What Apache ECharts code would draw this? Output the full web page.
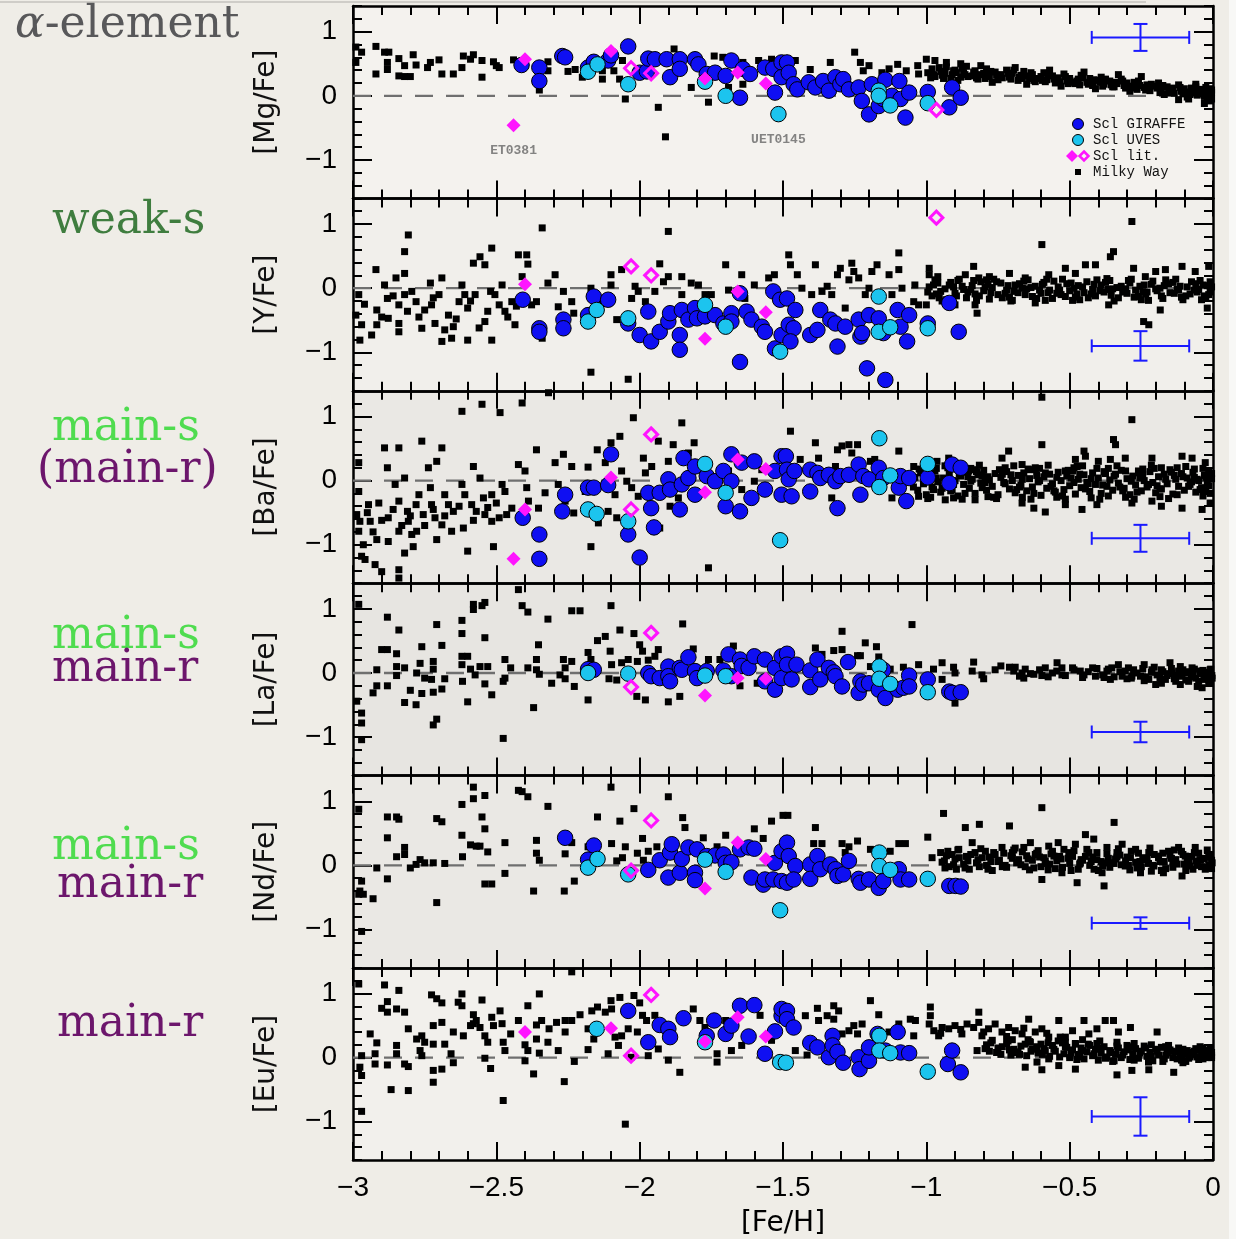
<!DOCTYPE html>
<html><head><meta charset="utf-8">
<script src="https://cdn.jsdelivr.net/npm/echarts@6/dist/echarts.min.js"></script>
<style>html,body{margin:0;padding:0;background:#efede7}#c{width:1236px;height:1239px}</style>
</head><body><div id="c"></div>
<script>
// ---------- DATA ----------
const yTitles = ['[Mg/Fe]','[Y/Fe]','[Ba/Fe]','[La/Fe]','[Nd/Fe]','[Eu/Fe]'];
const xTicks = [-3,-2.5,-2,-1.5,-1,-0.5,0];
const xTickText = ['\u22123','\u22122.5','\u22122','\u22121.5','\u22121','\u22120.5','0'];
const yTicks = [-1,0,1];
const yTickText = ['\u22121','0','1'];
const zeroLine = [[-3,0],[0,0]];

// Panel 1 : [Mg/Fe]
const mgMW = [[-2.99,0.76],[-2.97,0.68],[-2.99,0.52],[-2.92,0.77],[-2.89,0.68],[-2.875,0.68],[-2.88,0.52],[-2.92,0.34],[-2.88,0.41],[-2.84,0.58],[-2.82,0.47],[-2.84,0.31],[-2.82,0.30],[-2.80,0.30],[-2.79,0.64],[-2.78,0.48],[-2.74,0.44],[-2.73,0.52],[-2.70,0.56],[-2.69,0.34],[-2.65,0.34],[-2.62,0.44],[-2.615,0.62],[-2.59,0.57],[-2.58,0.64],[-2.55,0.55],[-2.55,0.29],[-2.51,0.53],[-2.50,0.47],[-2.49,0.44],[-2.44,0.56],[-2.32,0.53],[-2.32,0.39],[-2.35,0.09],[-2.25,0.38],[-2.225,0.41],[-2.20,0.29],[-2.13,0.26],[-2.13,0.39],[-2.09,0.39],[-2.06,0.55],[-2.07,0.26],[-2.05,-0.05],[-1.935,-0.18],[-1.91,-0.64],[-1.88,0.73],[-1.82,0.13],[-1.76,-0.10],[-1.74,0.62],[-1.71,0.60],[-1.69,0.13],[-1.64,0.52],[-1.64,0.18],[-1.585,0.55],[-1.54,0.57],[-1.486,0.55],[-1.457,0.55],[-1.405,0.41],[-1.335,0.52],[-1.25,0.68],[-1.23,0.52],[-1.22,0.39],[-1.20,0.47],[-1.155,0.36],[-1.13,0.42],[-1.10,0.49],[-1.07,0.39],[-1.03,0.47],[-1.027,0.34],[-1.0,0.57],[-0.97,0.55],[-0.93,0.52],[-0.88,0.50]];
const mgBand = [[-0.98,0.42],[-0.97,0.30],[-0.95,0.38],[-0.94,0.27],[-0.93,0.45],[-0.91,0.33],[-0.90,0.40],[-0.88,0.29],[-0.87,0.36],[-0.86,0.46],[-0.84,0.31],[-0.83,0.39],[-0.82,0.26],[-0.80,0.35],[-0.79,0.42],[-0.78,0.30],[-0.76,0.37],[-0.75,0.25],[-0.74,0.33],[-0.72,0.40],[-0.71,0.29],[-0.70,0.35],[-0.68,0.24],[-0.67,0.32],[-0.66,0.38],[-0.64,0.27],[-0.63,0.33],[-0.62,0.22],[-0.60,0.30],[-0.59,0.36],[-0.58,0.25],[-0.56,0.31],[-0.55,0.20],[-0.54,0.28],[-0.52,0.34],[-0.51,0.23],[-0.50,0.27],[-0.48,0.19],[-0.47,0.26],[-0.46,0.32],[-0.44,0.21],[-0.43,0.27],[-0.42,0.16],[-0.40,0.24],[-0.39,0.29],[-0.38,0.18],[-0.36,0.23],[-0.35,0.14],[-0.34,0.21],[-0.32,0.26],[-0.31,0.16],[-0.30,0.20],[-0.28,0.12],[-0.27,0.18],[-0.26,0.23],[-0.24,0.13],[-0.23,0.17],[-0.22,0.08],[-0.20,0.15],[-0.19,0.20],[-0.18,0.10],[-0.16,0.14],[-0.15,0.05],[-0.14,0.12],[-0.12,0.17],[-0.11,0.07],[-0.10,0.11],[-0.08,0.02],[-0.07,0.09],[-0.06,0.14],[-0.05,0.04],[-0.04,0.08],[-0.03,-0.01],[-0.02,0.06],[-0.01,0.11],[-0.01,0.01],[-0.005,0.05],[-0.02,-0.04],[-0.09,-0.02],[-0.17,0.02],[-0.29,0.07],[-0.41,0.11],[-0.53,0.15],[-0.65,0.18],[-0.77,0.21],[-0.89,0.24],[-0.03,-0.12],[-0.06,0.18],[-0.01,-0.08],[-0.12,-0.06],[-0.33,0.33],[-0.45,0.37],[-0.57,0.40],[-0.69,0.44],[-0.81,0.47],[-0.25,0.30]];
const mgBand2 = [[-0.995,0.36],[-0.975,0.33],[-0.955,0.44],[-0.935,0.35],[-0.915,0.27],[-0.895,0.36],[-0.875,0.43],[-0.855,0.30],[-0.835,0.37],[-0.815,0.33],[-0.795,0.27],[-0.775,0.38],[-0.755,0.32],[-0.735,0.28],[-0.715,0.35],[-0.695,0.40],[-0.675,0.29],[-0.655,0.31],[-0.635,0.36],[-0.615,0.27],[-0.595,0.24],[-0.575,0.33],[-0.555,0.26],[-0.535,0.22],[-0.515,0.30],[-0.495,0.21],[-0.475,0.23],[-0.455,0.28],[-0.435,0.18],[-0.415,0.25],[-0.395,0.21],[-0.375,0.26],[-0.355,0.17],[-0.335,0.19],[-0.315,0.23],[-0.295,0.15],[-0.275,0.21],[-0.255,0.16],[-0.235,0.09],[-0.215,0.18],[-0.195,0.12],[-0.175,0.16],[-0.155,0.09],[-0.135,0.04],[-0.115,0.13],[-0.095,0.06],[-0.075,0.12],[-0.055,0.01],[-0.045,0.10],[-0.035,0.03],[-0.025,0.13],[-0.015,-0.02],[-0.005,0.09],[-0.005,-0.05],[-0.025,0.00],[-0.065,0.05],[-0.085,-0.05],[-0.105,0.03],[-0.145,0.07],[-0.185,0.05],[-0.225,0.13],[-0.265,0.10],[-0.305,0.12],[-0.345,0.14],[-0.385,0.15],[-0.425,0.21],[-0.465,0.17],[-0.505,0.19],[-0.545,0.25],[-0.585,0.22],[-0.625,0.24],[-0.665,0.27],[-0.705,0.26],[-0.745,0.30],[-0.785,0.32],[-0.825,0.28],[-0.865,0.33],[-0.905,0.39],[-0.945,0.32],[-0.985,0.28]];
const mgGIR = [[-2.412,0.48],[-2.35,0.44],[-2.35,0.23],[-2.27,0.62],[-2.26,0.60],[-2.18,0.44],[-2.16,0.53],[-2.11,0.55],[-2.10,0.63],[-2.04,0.77],[-2.0,0.36],[-1.975,0.38],[-1.97,0.58],[-1.947,0.57],[-1.906,0.57],[-1.86,0.57],[-1.894,0.29],[-1.86,0.42],[-1.807,0.57],[-1.795,0.49],[-1.766,0.34],[-1.737,0.36],[-1.70,0.31],[-1.68,0.55],[-1.65,-0.03],[-1.64,0.42],[-1.615,0.34],[-1.563,0.44],[-1.534,0.42],[-1.528,0.05],[-1.505,0.52],[-1.505,0.29],[-1.486,0.52],[-1.48,0.36],[-1.463,0.18],[-1.45,0.10],[-1.41,0.21],[-1.387,0.13],[-1.36,0.23],[-1.34,0.08],[-1.317,0.29],[-1.30,0.18],[-1.29,0.26],[-1.27,0.10],[-1.236,0.13],[-1.225,-0.08],[-1.20,-0.29],[-1.19,0.18],[-1.166,-0.16],[-1.15,-0.05],[-1.143,0.25],[-1.12,0.0],[-1.094,0.23],[-1.09,-0.05],[-1.073,-0.34],[-1.06,0.05],[-0.995,0.06],[-0.92,-0.18],[-0.91,0.13],[-0.88,-0.03]];
const mgUVES = [[-2.18,0.375],[-2.147,0.49],[-2.04,0.18],[-1.772,0.22],[-1.70,0.0],[-1.516,-0.286],[-1.166,0.08],[-1.166,0.0],[-1.126,-0.15],[-0.995,-0.115]];
const mgLitF = [[-2.40,0.57],[-2.44,-0.46],[-2.10,0.70],[-1.772,0.27],[-1.658,0.365],[-1.56,0.19]];
const mgLitO = [[-2.03,0.43],[-1.96,0.35],[-0.965,-0.22]];
const mgErr = [[-0.253,0.91,0.17,0.21]];
const mgNotes = [[-2.44,-0.46,'ET0381'],[-1.516,-0.286,'UET0145']];

// Panel 2 : [Y/Fe]
const yMW = [[-2.98,-0.10],[-2.99,-0.42],[-2.97,-0.57],[-2.976,-0.81],[-2.92,0.29],[-2.935,-0.73],[-2.917,-0.57],[-2.917,-0.34],[-2.89,0.05],[-2.88,-0.16],[-2.877,-0.47],[-2.85,0.16],[-2.84,-0.26],[-2.84,-0.55],[-2.84,-0.68],[-2.82,0.23],[-2.82,0.57],[-2.807,0.83],[-2.82,-0.10],[-2.81,-0.36],[-2.795,-0.05],[-2.78,-0.21],[-2.76,-0.625],[-2.75,-0.34],[-2.73,0.08],[-2.726,-0.26],[-2.714,-0.55],[-2.70,-0.10],[-2.69,0.16],[-2.69,-0.83],[-2.68,-0.65],[-2.667,-0.42],[-2.656,-0.78],[-2.65,-0.60],[-2.63,-0.21],[-2.62,0.05],[-2.61,-0.10],[-2.60,-0.81],[-2.60,-0.31],[-2.574,-0.10],[-2.58,0.39],[-2.557,0.49],[-2.54,0.365],[-2.54,-0.52],[-2.53,-0.36],[-2.516,0.625],[-2.516,-0.81],[-2.505,-0.10],[-2.49,-0.26],[-2.48,0.05],[-2.47,-0.36],[-2.446,-0.21],[-2.435,-0.57],[-2.423,0.52],[-2.394,0.52],[-2.39,0.375],[-2.41,0.18],[-2.377,-0.26],[-2.36,-0.21],[-2.34,0.94],[-2.34,-0.78],[-2.32,0.08],[-2.295,0.21],[-2.284,-0.29],[-2.266,-0.05],[-2.237,-0.21],[-2.23,-0.39],[-2.17,0.0],[-2.17,-1.31],[-2.144,-0.21],[-2.10,0.21],[-2.10,0.05],[-2.08,-0.49],[-2.063,0.29],[-2.04,-1.42],[-2.028,-0.16],[-2.016,0.03],[-2.005,-0.05],[-1.98,-0.21],[-1.947,-0.05],[-1.93,0.38],[-1.917,0.10],[-1.90,0.885],[-1.90,0.18],[-1.853,0.18],[-1.853,-0.10],[-1.82,0.08],[-1.795,0.05],[-1.772,-0.10],[-1.75,-0.10],[-1.70,0.365],[-1.69,-0.03],[-1.644,0.21],[-1.633,-0.16],[-1.60,0.05],[-1.55,0.16],[-1.53,0.21],[-2.96,-0.25],[-2.90,-0.45],[-2.86,-0.12],[-2.77,-0.45],[-2.72,-0.15],[-2.64,-0.48],[-2.59,-0.20],[-2.56,-0.62],[-2.52,-0.05],[-2.46,-0.45],[-2.43,-0.28],
[-1.48,0.52],[-1.474,0.365],[-1.45,0.21],[-1.387,0.365],[-1.31,0.21],[-1.30,0.31],[-1.26,0.39],[-1.253,0.26],[-1.27,0.13],[-1.236,0.16],[-1.19,0.26],[-1.172,0.365],[-1.13,0.21],[-1.096,0.55],[-1.096,0.29],[-1.04,0.05],[-0.99,0.31],[-0.99,0.21],[-0.96,0.18],[-0.864,0.21],[-0.835,0.34],[-0.817,0.16],[-0.78,0.18],[-0.71,0.23],[-0.655,0.16],[-0.597,0.68],[-0.573,0.21],[-0.515,0.31],[-0.48,0.23],[-0.445,0.365],[-0.41,0.365],[-0.358,0.49],[-0.347,0.57],[-0.283,1.04],[-0.277,0.31],[-0.236,0.18],[-0.20,0.26],[-0.166,0.29],[-0.108,0.34],[-0.062,0.26],[-0.015,0.34],
[-0.823,-0.39],[-0.242,-0.52],[-0.224,-0.57],[-0.184,-0.34],[-0.83,-0.26],[-0.90,-0.26],[-0.62,-0.23],[-0.364,-0.26],[-0.02,-0.31],[-1.0,-0.26],
[-1.434,0.0],[-1.40,-0.10],[-1.364,-0.05],[-1.346,0.03],[-1.33,-0.10],[-1.283,-0.31],[-1.213,-0.10],[-1.20,0.0],[-1.12,-0.10],[-1.085,0.0],[-1.044,-0.21],[-1.027,-0.26]];
const yBand = [[-0.99,0.02],[-0.98,-0.12],[-0.96,0.08],[-0.95,-0.05],[-0.93,-0.18],[-0.92,0.05],[-0.90,-0.08],[-0.89,0.12],[-0.87,-0.02],[-0.86,-0.15],[-0.84,0.04],[-0.83,-0.09],[-0.81,0.10],[-0.80,-0.04],[-0.78,-0.17],[-0.77,0.01],[-0.75,-0.10],[-0.74,0.08],[-0.72,-0.03],[-0.71,-0.14],[-0.69,0.05],[-0.68,-0.07],[-0.66,0.11],[-0.65,-0.01],[-0.63,-0.13],[-0.62,0.03],[-0.60,-0.08],[-0.59,0.09],[-0.57,-0.03],[-0.56,-0.16],[-0.54,0.02],[-0.53,-0.10],[-0.51,0.07],[-0.50,-0.04],[-0.48,-0.14],[-0.47,0.04],[-0.45,-0.07],[-0.44,0.10],[-0.42,-0.02],[-0.41,-0.12],[-0.39,0.05],[-0.38,-0.06],[-0.36,0.12],[-0.35,-0.01],[-0.33,-0.15],[-0.32,0.03],[-0.30,-0.08],[-0.29,0.08],[-0.27,-0.03],[-0.26,-0.13],[-0.24,0.05],[-0.23,-0.06],[-0.21,0.11],[-0.20,-0.01],[-0.18,-0.12],[-0.17,0.04],[-0.15,-0.07],[-0.14,0.09],[-0.12,-0.03],[-0.11,-0.14],[-0.09,0.02],[-0.08,-0.09],[-0.06,0.07],[-0.05,-0.02],[-0.03,-0.12],[-0.02,0.04],[-0.01,-0.06],[-0.01,0.10],[-0.04,-0.18],[-0.13,0.14],[-0.25,-0.18],[-0.37,0.15],[-0.49,-0.19],[-0.58,0.14],[-0.70,-0.19],[-0.79,0.13],[-0.91,-0.20],[-0.97,0.13]];
const yBand2 = [[-0.995,-0.06],[-0.975,0.05],[-0.955,-0.15],[-0.935,-0.01],[-0.915,0.09],[-0.895,-0.12],[-0.875,0.03],[-0.855,-0.06],[-0.835,0.12],[-0.815,-0.12],[-0.795,0.02],[-0.775,-0.07],[-0.755,0.10],[-0.735,-0.15],[-0.715,0.04],[-0.695,-0.05],[-0.675,0.07],[-0.655,-0.10],[-0.635,0.01],[-0.615,-0.16],[-0.595,0.06],[-0.575,-0.07],[-0.555,0.11],[-0.535,-0.03],[-0.515,-0.13],[-0.495,0.08],[-0.475,-0.09],[-0.455,0.02],[-0.435,-0.15],[-0.415,0.06],[-0.395,-0.04],[-0.375,0.09],[-0.355,-0.11],[-0.335,0.01],[-0.315,-0.06],[-0.295,0.12],[-0.275,-0.14],[-0.255,0.03],[-0.235,-0.09],[-0.215,0.06],[-0.195,-0.04],[-0.175,-0.16],[-0.155,0.07],[-0.135,-0.08],[-0.115,0.03],[-0.095,-0.12],[-0.075,0.10],[-0.055,-0.06],[-0.035,0.05],[-0.015,-0.10],[-0.005,0.02],[-0.025,-0.15],[-0.045,0.12],[-0.105,-0.18],[-0.165,0.13],[-0.225,-0.19],[-0.285,0.14],[-0.345,-0.20],[-0.405,0.13],[-0.465,-0.18],[-0.525,0.14],[-0.585,-0.19],[-0.645,0.13],[-0.705,-0.20],[-0.765,0.14],[-0.825,-0.19],[-0.885,0.14],[-0.945,-0.20],[-0.965,-0.09],[-0.905,0.02],[-0.845,-0.02],[-0.785,0.06],[-0.725,-0.08],[-0.665,0.00],[-0.605,-0.03],[-0.545,-0.08],[-0.485,0.00],[-0.425,-0.09],[-0.365,-0.02],[-0.305,-0.01],[-0.245,-0.06],[-0.185,0.00],[-0.125,-0.02],[-0.065,-0.03]];
const yGIR = [[-2.408,-0.18],[-2.35,-0.625],[-2.35,-0.68],[-2.266,-0.49],[-2.266,-0.625],[-2.18,-0.42],[-2.16,-0.13],[-2.11,-0.18],[-2.04,-0.55],[-2.0,-0.73],[-1.97,-0.365],[-1.96,-0.83],[-1.93,-0.68],[-1.90,-0.52],[-1.894,-0.39],[-1.86,-0.73],[-1.86,-0.96],[-1.853,-0.34],[-1.83,-0.49],[-1.807,-0.31],[-1.80,-0.47],[-1.772,-0.44],[-1.737,-0.42],[-1.708,-0.55],[-1.68,-0.39],[-1.68,-0.52],[-1.65,-1.15],[-1.65,-0.08],[-1.627,-0.365],[-1.61,-0.49],[-1.574,-0.60],[-1.563,-0.68],[-1.534,-0.05],[-1.528,-0.94],[-1.51,-0.18],[-1.505,-0.73],[-1.486,-0.16],[-1.457,-0.34],[-1.48,-0.57],[-1.463,-0.625],[-1.474,-0.83],[-1.405,-0.73],[-1.38,-0.65],[-1.37,-0.34],[-1.335,-0.49],[-1.317,-0.55],[-1.31,-0.91],[-1.283,-0.60],[-1.236,-0.49],[-1.23,-0.755],[-1.224,-0.70],[-1.207,-1.25],[-1.20,-0.42],[-1.166,-0.47],[-1.15,-0.70],[-1.143,-1.43],[-1.10,-0.34],[-1.09,-0.60],[-1.067,-0.83],[-1.06,-0.42],[-0.995,-0.55],[-0.92,-0.23],[-0.887,-0.68]];
const yUVES = [[-2.18,-0.52],[-2.15,-0.34],[-2.04,-0.47],[-1.772,-0.26],[-1.70,-0.60],[-1.51,-0.99],[-1.166,-0.13],[-1.166,-0.68],[-1.126,-0.61],[-0.995,-0.625]];
const yLitF = [[-2.40,0.06],[-1.772,-0.79],[-1.658,-0.05],[-1.56,-0.375]];
const yLitO = [[-2.03,0.34],[-1.96,0.20],[-0.965,1.10]];
const yErr = [[-0.253,-0.90,0.17,0.23]];

// Panel 3 : [Ba/Fe]
const baMW = [[-2.98,0.28],[-2.98,-0.17],[-2.987,-0.53],[-2.976,-0.635],[-2.98,-0.79],[-2.964,-1.0],[-2.97,-1.18],[-2.958,-1.23],[-2.946,-0.375],[-2.94,-0.635],[-2.923,-1.31],[-2.917,-0.92],[-2.91,-0.35],[-2.90,-1.42],[-2.89,0.51],[-2.88,0.20],[-2.877,-0.58],[-2.877,-0.95],[-2.853,-0.06],[-2.84,0.51],[-2.84,-0.32],[-2.84,-0.79],[-2.84,-1.39],[-2.84,-1.52],[-2.82,-1.13],[-2.82,0.04],[-2.81,-0.48],[-2.807,-0.635],[-2.795,-0.84],[-2.79,-1.03],[-2.78,-0.375],[-2.778,-0.79],[-2.77,-0.22],[-2.76,0.615],[-2.755,-0.53],[-2.737,0.20],[-2.73,-0.11],[-2.726,-0.375],[-2.714,-0.58],[-2.708,0.30],[-2.708,-0.92],[-2.69,0.51],[-2.69,-0.69],[-2.68,-0.22],[-2.667,-0.375],[-2.656,-0.79],[-2.65,-0.48],[-2.62,1.08],[-2.62,-0.06],[-2.615,-0.74],[-2.61,-0.22],[-2.60,-1.10],[-2.586,-0.375],[-2.58,0.22],[-2.57,-0.48],[-2.557,0.04],[-2.55,1.19],[-2.545,-0.27],[-2.54,-0.53],[-2.516,-0.635],[-2.516,-0.22],[-2.51,-1.03],[-2.50,-0.35],[-2.487,1.06],[-2.48,-0.06],[-2.47,-0.17],[-2.464,-0.53],[-2.446,-0.43],[-2.423,0.25],[-2.41,1.21],[-2.40,0.15],[-2.394,-0.11],[-2.388,-0.32],[-2.36,0.48],[-2.353,-0.43],[-2.33,-0.19],[-2.318,1.37],[-2.295,0.28],[-2.284,-0.06],[-2.266,0.41],[-2.26,-0.32],[-2.237,0.22],[-2.23,-0.505],[-2.19,-0.17],[-2.18,0.21],[-2.17,-1.03],[-2.148,0.48],[-2.144,-0.66],[-2.12,0.28],[-2.11,-0.48],[-2.10,0.59],[-2.086,-0.22],[-2.08,-0.58],[-2.069,0.69],[-2.063,0.15],[-2.045,-0.01],[-2.028,-0.11],[-2.022,0.98],[-2.005,-0.245],[-1.987,0.35],[-1.98,0.12],[-1.958,0.22],[-1.935,0.615],[-1.93,-0.74],[-1.90,0.30],[-1.894,-0.40],[-1.883,0.56],[-1.865,-0.27],[-1.853,0.90],[-1.83,0.43],[-1.81,0.59],[-1.76,-1.36],[-1.69,0.15],[-1.644,-0.14],[-1.60,-0.01],[-1.574,0.17],[-2.95,-0.50],[-2.93,-0.80],[-2.90,-0.62],[-2.86,-0.45],[-2.83,-0.70],[-2.80,-0.55],[-2.75,-0.70],[-2.72,-0.45],[-2.68,-0.55],[-2.63,-0.40],[-2.58,-0.62],[-2.53,-0.42],[-2.49,-0.58],
[-1.474,0.77],[-1.44,0.33],[-1.387,0.59],[-1.376,0.35],[-1.31,0.48],[-1.294,0.54],[-1.27,0.56],[-1.26,0.43],[-1.24,0.56],[-1.317,0.22],[-1.195,0.30],[-1.18,0.33],[-1.096,0.46],[-1.044,0.22],[-1.027,-0.245],[-0.963,0.30],[-0.922,0.35],[-0.852,0.15],[-0.83,0.17],[-0.806,0.07],[-0.736,0.35],[-0.713,0.46],[-0.666,0.25],[-0.643,0.17],[-0.62,0.20],[-0.597,0.56],[-0.597,1.30],[-0.515,0.15],[-0.48,0.33],[-0.474,0.22],[-0.45,0.46],[-0.445,0.38],[-0.40,0.30],[-0.358,0.33],[-0.347,0.64],[-0.34,0.56],[-0.306,0.35],[-0.283,0.95],[-0.26,0.15],[-0.213,0.35],[-0.18,0.20],[-0.108,0.38],[-0.073,0.35],[-0.027,0.28],
[-1.33,-0.27],[-1.12,-0.27],[-0.934,-0.30],[-0.83,-0.30],[-0.666,-0.35],[-0.625,-0.43],[-0.585,-0.49],[-0.515,-0.375],[-0.457,-0.45],[-0.405,-0.375],[-0.283,-0.35],[-0.213,-0.32],[-0.18,-0.40],[-0.108,-0.43],[-0.038,-0.45],[-0.01,-0.35]];
const baBand = [[-1.04,0.05],[-1.03,-0.15],[-1.02,0.12],[-1.01,-0.05],[-1.00,-0.22],[-0.99,0.08],[-0.98,-0.10],[-0.97,0.15],[-0.96,-0.02],[-0.95,-0.18],[-0.94,0.04],[-0.93,-0.08],[-0.92,0.10],[-0.91,-0.14],[-0.90,0.00],[-0.89,-0.24],[-0.88,0.07],[-0.87,-0.06],[-0.86,0.13],[-0.85,-0.12],[-0.84,0.02],[-0.83,-0.20],[-0.82,0.09],[-0.81,-0.04],[-0.80,0.16],[-0.79,-0.15],[-0.78,0.01],[-0.77,-0.09],[-0.76,0.11],[-0.75,-0.22],[-0.74,0.05],[-0.73,-0.03],[-0.72,0.14],[-0.71,-0.13],[-0.70,0.00],[-0.69,-0.19],[-0.68,0.08],[-0.67,-0.07],[-0.66,0.12],[-0.65,-0.16],[-0.64,0.03],[-0.63,-0.10],[-0.62,0.17],[-0.61,-0.02],[-0.60,-0.23],[-0.59,0.06],[-0.58,-0.12],[-0.57,0.10],[-0.56,-0.05],[-0.55,-0.18],[-0.54,0.13],[-0.53,0.00],[-0.52,-0.14],[-0.51,0.07],[-0.50,-0.08],[-0.49,0.15],[-0.48,-0.21],[-0.47,0.02],[-0.46,-0.11],[-0.45,0.09],[-0.44,-0.03],[-0.43,-0.17],[-0.42,0.12],[-0.41,-0.06],[-0.40,0.04],[-0.39,-0.20],[-0.38,0.14],[-0.37,-0.09],[-0.36,0.01],[-0.35,-0.15],[-0.34,0.10],[-0.33,-0.04],[-0.32,0.16],[-0.31,-0.12],[-0.30,0.03],[-0.29,-0.22],[-0.28,0.07],[-0.27,-0.07],[-0.26,0.12],[-0.25,-0.16],[-0.24,0.00],[-0.23,-0.10],[-0.22,0.14],[-0.21,-0.03],[-0.20,-0.19],[-0.19,0.06],[-0.18,-0.13],[-0.17,0.10],[-0.16,-0.05],[-0.15,0.17],[-0.14,-0.21],[-0.13,0.02],[-0.12,-0.09],[-0.11,0.11],[-0.10,-0.15],[-0.09,0.04],[-0.08,-0.06],[-0.07,0.13],[-0.06,-0.18],[-0.05,0.00],[-0.04,-0.11],[-0.03,0.08],[-0.02,-0.04],[-0.015,0.15],[-0.01,-0.20],[-0.005,0.03],[-0.025,-0.14],[-0.035,0.19],[-0.065,0.05],[-0.125,0.20],[-0.185,-0.25],[-0.245,0.18],[-0.305,-0.26],[-0.365,0.19],[-0.425,-0.27],[-0.485,0.20],[-0.545,-0.26],[-0.605,0.19],[-0.665,-0.26],[-0.725,0.20],[-0.785,-0.25],[-0.845,0.19],[-0.905,-0.27],[-0.965,0.19]];
const baBand2 = [[-1.045,-0.10],[-1.025,0.18],[-1.005,-0.02],[-0.985,-0.26],[-0.965,0.04],[-0.945,-0.12],[-0.925,0.20],[-0.905,-0.06],[-0.885,0.11],[-0.865,-0.20],[-0.845,-0.01],[-0.825,0.14],[-0.805,-0.11],[-0.785,0.06],[-0.765,-0.26],[-0.745,0.17],[-0.725,-0.05],[-0.705,0.09],[-0.685,-0.14],[-0.665,0.02],[-0.645,0.18],[-0.625,-0.20],[-0.605,0.00],[-0.585,0.12],[-0.565,-0.09],[-0.545,0.05],[-0.525,-0.24],[-0.505,0.16],[-0.485,-0.03],[-0.465,0.10],[-0.445,-0.13],[-0.425,0.03],[-0.405,0.19],[-0.385,-0.07],[-0.365,-0.24],[-0.345,0.07],[-0.325,-0.10],[-0.305,0.15],[-0.285,-0.01],[-0.265,-0.18],[-0.245,0.09],[-0.225,-0.06],[-0.205,0.19],[-0.185,-0.13],[-0.165,0.02],[-0.145,0.13],[-0.125,-0.22],[-0.105,0.06],[-0.085,-0.09],[-0.065,0.18],[-0.045,-0.14],[-0.025,0.05],[-0.015,-0.08],[-0.005,0.11],[-0.035,-0.24],[-0.095,0.22],[-0.155,-0.28],[-0.215,0.24],[-0.275,-0.29],[-0.335,0.23],[-0.395,-0.29],[-0.455,0.23],[-0.515,-0.29],[-0.575,0.24],[-0.635,-0.29],[-0.695,0.23],[-0.755,-0.28],[-0.815,0.24],[-0.875,-0.29],[-0.935,0.23],[-0.995,-0.28],[-0.975,-0.14],[-0.915,-0.16],[-0.855,0.06],[-0.795,-0.03],[-0.735,0.10],[-0.675,-0.10],[-0.615,0.08],[-0.555,-0.16],[-0.495,0.04],[-0.435,-0.05],[-0.375,0.11],[-0.315,-0.16],[-0.255,0.04],[-0.195,-0.08],[-0.135,0.08],[-0.075,-0.02],[-0.055,0.02]];
const baGIR = [[-2.408,-0.58],[-2.35,-0.84],[-2.35,-1.22],[-2.26,-0.22],[-2.27,-0.48],[-2.18,-0.11],[-2.16,-0.11],[-2.11,-0.07],[-2.10,0.41],[-2.04,-0.84],[-2.0,-1.20],[-1.97,-0.19],[-1.96,-0.43],[-1.95,-0.73],[-1.93,-0.19],[-1.90,0.02],[-1.894,-0.14],[-1.86,-0.45],[-1.853,-0.06],[-1.847,0.35],[-1.83,0.04],[-1.807,0.22],[-1.807,-0.22],[-1.766,0.07],[-1.737,-0.01],[-1.708,0.15],[-1.70,-0.40],[-1.68,-0.01],[-1.68,0.41],[-1.65,-0.48],[-1.644,0.28],[-1.61,-0.27],[-1.60,0.30],[-1.563,-0.14],[-1.528,0.15],[-1.505,0.38],[-1.505,-0.22],[-1.49,0.38],[-1.486,0.17],[-1.48,0.02],[-1.46,0.15],[-1.47,-0.245],[-1.405,0.17],[-1.405,-0.17],[-1.38,0.12],[-1.37,0.04],[-1.34,0.09],[-1.317,-0.01],[-1.31,-0.43],[-1.30,0.07],[-1.27,0.09],[-1.236,0.25],[-1.23,-0.22],[-1.22,0.07],[-1.20,0.02],[-1.166,0.20],[-1.15,0.04],[-1.096,-0.11],[-1.09,0.07],[-1.07,-0.32],[-1.06,0.04],[-0.995,0.05],[-0.92,-0.04],[-0.91,0.25],[-0.88,0.20]];
const baUVES = [[-2.18,-0.45],[-2.15,-0.52],[-2.04,-0.635],[-1.772,0.26],[-1.70,-0.19],[-1.51,-0.93],[-1.164,0.66],[-1.126,0.08],[-1.164,-0.10],[-0.995,0.26]];
const baLitF = [[-2.40,-0.45],[-2.44,-1.22],[-2.10,0.05],[-1.772,-0.18],[-1.658,0.33],[-1.56,0.18]];
const baLitO = [[-1.96,0.72],[-2.03,-0.45]];
const baErr = [[-0.253,-0.90,0.17,0.21]];

// Panel 4 : [La/Fe]
const laMW = [[-2.98,1.07],[-2.987,-0.44],[-2.97,-0.625],[-2.97,-0.78],[-2.97,-1.04],[-2.93,-0.31],[-2.917,0.05],[-2.917,-0.20],[-2.90,0.365],[-2.88,0.365],[-2.88,-0.20],[-2.88,0.87],[-2.848,0.30],[-2.84,0.67],[-2.848,0.10],[-2.848,-0.04],[-2.82,0.08],[-2.82,-0.46],[-2.80,-0.27],[-2.78,-0.495],[-2.778,0.0],[-2.766,0.15],[-2.76,0.41],[-2.76,-0.32],[-2.75,-0.08],[-2.726,-0.10],[-2.72,0.18],[-2.72,0.06],[-2.72,-0.30],[-2.72,-0.81],[-2.708,-0.72],[-2.708,0.755],[-2.69,0.43],[-2.69,-0.25],[-2.68,-0.09],[-2.62,0.82],[-2.62,0.615],[-2.62,0.26],[-2.62,0.13],[-2.618,-0.13],[-2.60,0.26],[-2.59,0.06],[-2.60,-0.45],[-2.58,0.99],[-2.58,1.07],[-2.574,-0.03],[-2.557,0.10],[-2.55,1.05],[-2.54,1.10],[-2.54,0.55],[-2.54,-0.17],[-2.53,0.10],[-2.516,-0.34],[-2.476,-1.02],[-2.476,-0.13],[-2.47,0.21],[-2.47,-0.08],[-2.45,0.08],[-2.423,1.30],[-2.41,1.05],[-2.39,0.95],[-2.39,0.08],[-2.37,-0.54],[-2.36,0.21],[-2.36,0.05],[-2.353,0.44],[-2.35,-0.02],[-2.32,0.84],[-2.307,-0.16],[-2.278,-0.03],[-2.266,0.21],[-2.26,0.08],[-2.26,-0.09],[-2.237,0.97],[-2.237,0.18],[-2.228,-0.21],[-2.208,0.97],[-2.18,0.32],[-2.18,-0.42],[-2.17,0.21],[-2.147,0.505],[-2.12,0.57],[-2.107,-0.09],[-2.103,0.34],[-2.10,1.05],[-2.098,0.13],[-2.08,-0.11],[-2.069,0.67],[-2.063,0.16],[-2.04,0.21],[-2.02,0.615],[-2.01,-0.365],[-2.008,0.18],[-2.0,0.44],[-1.99,0.34],[-1.98,-0.42],[-1.97,0.20],[-1.947,0.26],[-1.935,0.365],[-1.90,-0.45],[-1.86,-0.365],[-1.85,0.765],[-1.813,0.375],[-1.76,0.21],[-1.72,0.21],[-1.673,0.42],[-1.65,-0.20],[-1.59,-0.16],
[-1.387,0.39],[-1.364,0.29],[-1.323,0.35],[-1.294,0.65],[-1.294,0.365],[-1.24,0.27],[-1.23,0.27],[-1.213,0.47],[-1.174,0.41],[-1.195,0.10],[-1.166,0.25],[-1.126,0.06],[-1.08,0.09],[-1.05,0.755],[-1.027,0.13],[-0.975,0.06],[-0.945,0.16],[-0.945,-0.10],[-0.905,0.09],[-0.90,0.0],[-0.90,-0.47],[-0.835,0.17],[-0.84,0.03],[-0.806,-0.03],[-0.80,-0.09],[-0.76,0.05],[-0.74,0.11],[-0.71,0.09],[-0.69,0.09],[-0.666,0.0],[-0.66,-0.08],[-0.637,-0.01],[-0.597,-0.04],[-0.585,0.08],[-0.56,0.0],[-0.544,0.16],[-0.527,-0.03],[-0.527,0.08],[-0.49,0.08],[-0.463,0.03],[-0.45,-0.03],[-0.42,0.08],[-0.41,-0.05],[-0.37,0.03],[-0.358,-0.10],[-0.353,0.08],[-0.33,0.13],[-0.317,-0.05],[-0.306,0.03],[-0.283,-0.05],[-0.277,0.05],[-0.253,-0.05],[-0.24,0.13],[-0.224,-0.10],[-0.213,0.05],[-0.20,-0.18],[-0.195,-0.03],[-0.18,0.05],[-0.166,-0.10],[-0.15,0.16],[-0.143,0.0],[-0.13,-0.13],[-0.114,0.10],[-0.108,-0.05],[-0.09,0.0],[-0.085,-0.13],[-0.073,0.08],[-0.06,-0.08],[-0.055,-0.21],[-0.044,0.03],[-0.032,-0.10],[-0.027,-0.03],[-0.015,-0.16],[-0.01,0.05],[-0.003,-0.08],[-0.038,-0.23],[-0.114,-0.18],[-0.18,-0.16],[-0.24,-0.12],[-0.30,-0.09],[-0.38,-0.07],[-0.12,0.03],[-0.07,-0.02],[-0.16,-0.04]];
const laBand2 = [[-0.695,0.03],[-0.675,-0.05],[-0.655,0.06],[-0.625,-0.02],[-0.605,0.05],[-0.575,-0.06],[-0.545,0.03],[-0.515,-0.04],[-0.485,0.05],[-0.455,-0.07],[-0.435,0.02],[-0.405,0.07],[-0.385,-0.03],[-0.365,0.06],[-0.345,-0.06],[-0.325,0.02],[-0.295,0.08],[-0.285,-0.08],[-0.265,0.00],[-0.245,0.07],[-0.235,-0.06],[-0.215,0.01],[-0.205,0.09],[-0.185,-0.07],[-0.175,0.02],[-0.155,-0.01],[-0.145,0.07],[-0.135,-0.09],[-0.125,-0.04],[-0.105,0.05],[-0.095,-0.11],[-0.085,0.02],[-0.075,-0.06],[-0.065,0.06],[-0.05,-0.13],[-0.045,-0.01],[-0.035,0.04],[-0.025,-0.09],[-0.02,0.01],[-0.012,-0.14],[-0.008,0.06],[-0.004,-0.04]];
const laGIR = [[-2.18,0.06],[-2.16,0.05],[-1.97,0.0],[-1.96,-0.05],[-1.93,-0.08],[-1.90,0.10],[-1.90,-0.05],[-1.894,-0.13],[-1.86,0.08],[-1.853,0.05],[-1.83,0.245],[-1.807,0.03],[-1.80,-0.08],[-1.766,0.03],[-1.708,0.04],[-1.69,0.29],[-1.68,-0.05],[-1.65,0.21],[-1.644,0.11],[-1.62,0.08],[-1.60,0.26],[-1.563,0.21],[-1.563,-0.13],[-1.528,0.08],[-1.528,-0.26],[-1.505,0.26],[-1.505,-0.08],[-1.486,0.30],[-1.486,0.13],[-1.47,-0.10],[-1.453,0.13],[-1.405,0.04],[-1.405,-0.22],[-1.38,0.21],[-1.37,-0.10],[-1.34,0.08],[-1.323,0.01],[-1.317,-0.05],[-1.294,-0.21],[-1.273,0.17],[-1.236,-0.31],[-1.23,-0.13],[-1.22,-0.18],[-1.20,-0.16],[-1.166,-0.26],[-1.15,0.05],[-1.143,-0.39],[-1.10,-0.26],[-1.08,-0.23],[-1.06,-0.04],[-1.06,-0.21],[-0.995,-0.10],[-0.92,-0.29],[-0.91,-0.31],[-0.88,-0.30]];
const laUVES = [[-2.18,0.0],[-2.04,-0.01],[-1.772,-0.04],[-1.70,-0.05],[-1.164,0.10],[-1.164,-0.09],[-1.126,-0.17],[-0.995,-0.30]];
const laLitF = [[-1.772,-0.35],[-1.658,-0.08],[-1.56,-0.09]];
const laLitO = [[-1.96,0.625],[-2.03,-0.22]];
const laErr = [[-0.253,-0.92,0.17,0.16]];

// Panel 5 : [Nd/Fe]
const ndMW = [[-2.98,0.875],[-2.97,-0.245],[-2.976,-0.40],[-2.98,-0.45],[-2.964,-0.45],[-2.97,-1.03],[-2.93,-0.52],[-2.917,-0.04],[-2.88,0.755],[-2.88,0.43],[-2.88,-0.21],[-2.848,0.755],[-2.84,0.72],[-2.848,0.135],[-2.82,0.28],[-2.82,0.17],[-2.80,-0.04],[-2.78,0.015],[-2.766,0.09],[-2.75,0.04],[-2.72,0.04],[-2.708,0.73],[-2.708,-0.58],[-2.69,0.68],[-2.68,0.03],[-2.62,0.95],[-2.62,0.47],[-2.618,0.135],[-2.59,0.32],[-2.58,1.22],[-2.58,1.04],[-2.57,0.30],[-2.557,0.30],[-2.55,0.755],[-2.54,1.09],[-2.54,0.57],[-2.54,-0.29],[-2.53,0.21],[-2.516,-0.29],[-2.47,0.355],[-2.47,-0.125],[-2.423,1.17],[-2.41,1.15],[-2.39,1.07],[-2.37,-0.40],[-2.36,0.39],[-2.36,0.19],[-2.35,0.08],[-2.32,0.92],[-2.263,-0.40],[-2.26,0.18],[-2.237,0.355],[-2.228,-0.245],[-2.18,0.29],[-2.147,0.755],[-2.10,1.22],[-2.098,0.34],[-2.08,0.07],[-2.069,0.69],[-2.06,0.12],[-2.05,0.29],[-2.02,0.885],[-2.008,0.19],[-1.99,0.42],[-1.987,0.08],[-1.97,0.22],[-1.94,0.29],[-1.90,1.07],[-1.85,0.745],[-1.842,0.59],[-1.778,0.43],[-1.73,0.29],[-1.70,0.47],[-1.60,0.57],[-1.569,0.42],[-1.54,0.69],[-1.50,0.78],
[-1.483,0.78],[-1.387,0.59],[-1.393,0.34],[-1.364,0.34],[-1.294,0.34],[-1.27,0.29],[-1.24,0.38],[-1.283,0.20],[-1.195,0.25],[-1.126,0.22],[-1.096,0.34],[-1.073,0.34],[-0.995,0.44],[-0.94,0.81],[-0.98,0.12],[-0.95,0.20],[-0.937,0.07],[-0.91,0.17],[-0.887,0.25],[-0.864,0.59],[-0.84,0.355],[-0.83,0.20],[-0.815,0.64],[-0.794,0.22],[-0.76,0.17],[-0.736,0.28],[-0.71,0.615],[-0.70,0.20],[-0.678,0.09],[-0.66,0.28],[-0.637,0.355],[-0.62,0.17],[-0.597,0.90],[-0.597,-0.22],[-0.585,0.07],[-0.573,0.30],[-0.555,0.145],[-0.54,0.355],[-0.527,-0.115],[-0.503,0.20],[-0.48,0.33],[-0.474,-0.27],[-0.463,0.04],[-0.445,0.48],[-0.433,0.20],[-0.416,0.41],[-0.405,0.09],[-0.387,-0.115],[-0.38,-0.32],[-0.37,0.28],[-0.358,0.04],[-0.345,0.67],[-0.335,0.20],[-0.317,0.33],[-0.306,-0.01],[-0.288,0.12],[-0.27,0.25],[-0.253,-0.115],[-0.24,0.09],[-0.224,0.20],[-0.206,-0.01],[-0.19,0.145],[-0.173,-0.115],[-0.155,0.22],[-0.14,0.07],[-0.12,0.28],[-0.108,-0.165],[-0.097,0.145],[-0.08,-0.01],[-0.062,0.28],[-0.044,0.09],[-0.027,-0.06],[-0.01,0.17],[-0.003,0.04]];
const ndBand = [[-0.93,0.15],[-0.92,-0.02],[-0.90,0.10],[-0.89,0.24],[-0.87,0.02],[-0.86,0.14],[-0.85,-0.06],[-0.82,0.09],[-0.81,0.26],[-0.79,0.00],[-0.78,0.13],[-0.77,-0.08],[-0.75,0.06],[-0.73,0.19],[-0.72,-0.03],[-0.70,0.11],[-0.69,0.27],[-0.67,0.01],[-0.65,0.15],[-0.64,-0.07],[-0.63,0.08],[-0.61,0.23],[-0.60,-0.02],[-0.59,0.12],[-0.57,0.02],[-0.56,0.22],[-0.55,-0.05],[-0.53,0.10],[-0.52,0.25],[-0.50,0.03],[-0.49,0.14],[-0.47,-0.06],[-0.46,0.09],[-0.44,0.25],[-0.43,0.00],[-0.42,0.13],[-0.40,-0.08],[-0.39,0.06],[-0.37,0.18],[-0.36,-0.03],[-0.34,0.10],[-0.33,0.26],[-0.32,0.01],[-0.30,0.13],[-0.29,-0.07],[-0.27,0.05],[-0.26,0.19],[-0.25,-0.02],[-0.23,0.10],[-0.22,0.27],[-0.21,0.00],[-0.19,0.12],[-0.18,-0.08],[-0.17,0.06],[-0.15,0.16],[-0.14,-0.03],[-0.13,0.09],[-0.11,0.22],[-0.10,0.02],[-0.09,0.12],[-0.07,-0.06],[-0.06,0.07],[-0.05,0.19],[-0.04,-0.02],[-0.03,0.10],[-0.02,0.24],[-0.015,0.00],[-0.01,0.13],[-0.005,-0.05]];
const ndBand2 = [[-0.945,0.05],[-0.925,0.22],[-0.905,0.01],[-0.885,0.12],[-0.865,-0.04],[-0.845,0.17],[-0.825,0.04],[-0.805,0.12],[-0.785,-0.06],[-0.765,0.20],[-0.745,0.08],[-0.725,0.00],[-0.705,0.15],[-0.685,0.04],[-0.665,0.21],[-0.645,0.10],[-0.625,-0.04],[-0.605,0.13],[-0.585,0.03],[-0.565,0.18],[-0.545,0.07],[-0.525,-0.03],[-0.505,0.11],[-0.485,0.23],[-0.465,0.02],[-0.445,0.14],[-0.425,0.06],[-0.405,0.20],[-0.385,-0.01],[-0.365,0.11],[-0.345,0.03],[-0.325,0.16],[-0.305,0.07],[-0.285,0.22],[-0.265,-0.04],[-0.245,0.12],[-0.225,0.03],[-0.205,0.17],[-0.185,0.06],[-0.165,-0.05],[-0.145,0.11],[-0.125,0.02],[-0.105,0.17],[-0.085,0.05],[-0.065,0.20],[-0.045,0.08],[-0.025,-0.03],[-0.015,0.16],[-0.005,0.08],[-0.035,0.11],[-0.055,0.00],[-0.075,0.14],[-0.095,-0.08],[-0.135,0.24],[-0.175,0.19],[-0.215,-0.09],[-0.255,0.06],[-0.295,0.00],[-0.335,0.13],[-0.375,0.04],[-0.415,-0.06],[-0.455,0.08],[-0.495,-0.08],[-0.535,0.14],[-0.575,-0.07],[-0.615,0.19],[-0.655,-0.02],[-0.695,0.24],[-0.735,-0.02],[-0.775,0.06],[-0.815,-0.02],[-0.855,0.07],[-0.895,-0.06],[-0.935,-0.04]];
const ndGIR = [[-2.26,0.43],[-2.16,0.31],[-2.18,0.09],[-1.97,-0.07],[-1.93,0.08],[-1.90,-0.19],[-1.894,0.20],[-1.888,0.33],[-1.86,-0.115],[-1.853,0.10],[-1.83,0.28],[-1.807,-0.115],[-1.80,0.25],[-1.807,-0.23],[-1.766,0.145],[-1.737,0.155],[-1.708,0.17],[-1.70,0.04],[-1.68,0.05],[-1.65,0.25],[-1.62,0.28],[-1.61,-0.19],[-1.60,0.26],[-1.569,-0.30],[-1.563,-0.22],[-1.534,-0.22],[-1.528,0.04],[-1.505,0.22],[-1.505,-0.245],[-1.486,0.355],[-1.48,0.145],[-1.457,-0.01],[-1.486,-0.27],[-1.463,-0.22],[-1.405,0.015],[-1.405,-0.21],[-1.38,0.145],[-1.37,-0.06],[-1.335,0.015],[-1.317,-0.06],[-1.31,-0.165],[-1.29,-0.14],[-1.27,0.07],[-1.236,-0.21],[-1.23,-0.27],[-1.20,-0.22],[-1.166,-0.35],[-1.15,-0.245],[-1.096,-0.06],[-1.09,-0.22],[-1.06,-0.22],[-0.92,-0.32],[-0.898,-0.32],[-0.88,-0.33]];
const ndUVES = [[-2.18,-0.035],[-2.147,0.10],[-2.04,-0.14],[-1.772,0.09],[-1.70,-0.10],[-1.51,-0.70],[-1.164,0.20],[-1.164,-0.01],[-1.126,-0.07],[-0.995,-0.21]];
const ndLitF = [[-1.772,-0.36],[-1.658,0.355],[-1.56,0.10]];
const ndLitO = [[-1.96,0.70],[-2.03,-0.08]];
const ndErr = [[-0.253,-0.90,0.17,0.09]];

// Panel 6 : [Eu/Fe]
const euMW = [[-2.98,1.15],[-2.976,-0.15],[-2.97,-0.28],[-2.97,-0.84],[-2.97,0.03],[-2.94,0.37],[-2.917,0.23],[-2.923,0.06],[-2.923,-0.10],[-2.90,0.77],[-2.89,1.135],[-2.88,-0.115],[-2.88,0.71],[-2.88,0.875],[-2.867,-0.50],[-2.848,0.76],[-2.84,1.05],[-2.848,0.19],[-2.848,0.06],[-2.82,0.71],[-2.82,-0.10],[-2.807,-0.14],[-2.807,-0.515],[-2.807,0.45],[-2.778,0.29],[-2.766,0.11],[-2.76,0.34],[-2.76,0.03],[-2.75,0.24],[-2.726,0.98],[-2.72,0.50],[-2.72,0.21],[-2.72,-0.20],[-2.72,-0.385],[-2.708,0.92],[-2.69,0.855],[-2.69,0.55],[-2.69,-0.18],[-2.68,0.21],[-2.658,0.06],[-2.65,0.40],[-2.65,-0.08],[-2.633,0.865],[-2.62,0.995],[-2.62,0.81],[-2.615,0.34],[-2.59,0.50],[-2.58,0.67],[-2.58,0.53],[-2.57,0.58],[-2.557,0.47],[-2.55,0.90],[-2.54,0.34],[-2.54,-0.01],[-2.53,0.24],[-2.52,-0.17],[-2.516,0.63],[-2.51,0.50],[-2.487,0.73],[-2.48,0.53],[-2.476,0.24],[-2.476,-0.67],[-2.47,0.11],[-2.45,0.37],[-2.423,0.58],[-2.40,0.20],[-2.40,-0.05],[-2.39,0.81],[-2.39,0.11],[-2.37,-0.255],[-2.36,0.51],[-2.36,0.29],[-2.35,0.07],[-2.35,0.995],[-2.342,0.58],[-2.32,0.24],[-2.316,0.45],[-2.29,0.55],[-2.284,0.11],[-2.263,-0.375],[-2.26,0.40],[-2.26,0.58],[-2.237,1.34],[-2.237,0.58],[-2.228,-0.06],[-2.208,0.67],[-2.18,0.125],[-2.18,0.45],[-2.167,0.73],[-2.16,0.29],[-2.147,0.79],[-2.12,0.71],[-2.11,0.06],[-2.10,0.89],[-2.098,0.76],[-2.086,0.32],[-2.074,0.19],[-2.069,0.94],[-2.063,0.34],[-2.05,-1.04],[-2.04,0.45],[-2.03,0.005],[-2.02,0.97],[-2.008,0.40],[-2.0,0.855],[-1.99,0.66],[-1.976,0.58],[-1.97,0.03],[-1.947,0.66],[-1.935,0.135],[-1.90,-0.04],[-1.86,-0.23],[-1.813,0.76],[-1.79,0.58],[-1.772,0.47],[-1.73,0.06],[-1.73,-0.07],[-1.70,0.58],[-1.68,0.11],[-1.644,0.19],[-1.58,0.66],[-1.54,0.27],
[-1.422,0.655],[-1.38,0.77],[-1.376,0.58],[-1.346,0.655],[-1.323,0.81],[-1.306,0.73],[-1.323,0.60],[-1.294,0.37],[-1.27,0.42],[-1.253,0.50],[-1.24,0.37],[-1.224,0.525],[-1.195,0.89],[-1.166,0.67],[-1.13,0.40],[-1.096,0.525],[-1.056,0.60],[-1.038,0.58],[-1.044,0.34],[-0.986,0.79],[-0.986,0.655],[-0.99,0.525],[-0.974,0.42],[-0.957,0.34],[-0.945,0.47],[-0.922,0.45],[-0.90,0.50],[-0.876,0.37],[-0.858,0.525],[-0.835,0.47],[-0.817,0.71],[-0.817,0.55],[-0.806,0.34],[-0.783,0.45],[-0.76,0.525],[-0.736,0.40],[-0.713,0.47],[-0.69,0.42],[-0.666,0.37],[-0.643,0.60],[-0.637,0.24],[-0.62,0.40],[-0.597,0.45],[-0.573,0.32],[-0.538,0.58],[-0.533,0.32],[-0.515,0.24],[-0.49,0.42],[-0.48,0.21],[-0.45,0.58],[-0.433,0.37],[-0.405,0.45],[-0.376,0.58],[-0.347,0.58],[-0.33,0.40],[-0.288,0.47],[-0.195,0.40],[-0.95,0.38],[-0.88,0.44],[-0.80,0.40],[-0.72,0.33],[-0.66,0.46],[-0.58,0.38],
[-1.457,0.11],[-1.416,0.04],[-0.823,0.11],[-0.695,0.08],[-0.655,-0.15],[-0.614,-0.07],[-0.597,-0.19],[-0.573,-0.02],[-0.538,-0.125],[-0.48,-0.18],[-0.335,-0.27],[-0.283,-0.20],[-0.224,-0.19],[-0.137,-0.23]];
const euBand = [[-0.79,0.20],[-0.78,0.10],[-0.77,0.27],[-0.75,0.15],[-0.74,0.05],[-0.72,0.22],[-0.71,0.12],[-0.70,0.28],[-0.68,0.09],[-0.67,0.18],[-0.65,0.03],[-0.64,0.25],[-0.63,0.13],[-0.61,0.07],[-0.60,0.21],[-0.59,0.14],[-0.57,0.02],[-0.56,0.19],[-0.55,0.10],[-0.54,0.26],[-0.52,0.06],[-0.51,0.16],[-0.50,0.00],[-0.49,0.12],[-0.48,0.22],[-0.47,0.05],[-0.46,0.15],[-0.45,-0.02],[-0.44,0.09],[-0.43,0.19],[-0.42,0.03],[-0.41,0.13],[-0.40,-0.04],[-0.39,0.07],[-0.38,0.17],[-0.37,0.01],[-0.36,0.11],[-0.35,-0.06],[-0.34,0.05],[-0.33,0.15],[-0.32,0.00],[-0.31,0.09],[-0.30,0.19],[-0.29,-0.03],[-0.28,0.06],[-0.27,0.14],[-0.26,-0.01],[-0.25,0.10],[-0.24,0.18],[-0.23,0.02],[-0.22,0.08],[-0.21,-0.05],[-0.20,0.13],[-0.19,0.04],[-0.18,0.16],[-0.17,-0.02],[-0.16,0.07],[-0.15,0.12],[-0.14,0.00],[-0.13,0.09],[-0.12,0.15],[-0.11,-0.04],[-0.10,0.05],[-0.09,0.11],[-0.08,0.01],[-0.07,0.08],[-0.06,0.14],[-0.05,-0.03],[-0.04,0.06],[-0.03,0.10],[-0.02,0.00],[-0.015,0.07],[-0.01,0.13],[-0.005,0.03],[-0.035,0.15],[-0.095,-0.06],[-0.155,0.19],[-0.215,0.20],[-0.275,0.22],[-0.335,0.24],[-0.395,0.26],[-0.455,0.28],[-0.515,0.32]];
const euBand2 = [[-0.795,0.14],[-0.775,0.23],[-0.755,0.08],[-0.735,0.17],[-0.715,0.26],[-0.695,0.13],[-0.675,0.05],[-0.655,0.21],[-0.635,0.10],[-0.615,0.17],[-0.595,0.05],[-0.575,0.23],[-0.555,0.13],[-0.535,0.01],[-0.515,0.17],[-0.495,0.07],[-0.475,-0.03],[-0.455,0.11],[-0.435,0.21],[-0.415,0.06],[-0.395,0.15],[-0.375,-0.01],[-0.355,0.08],[-0.335,0.18],[-0.315,0.04],[-0.295,0.12],[-0.275,-0.04],[-0.255,0.07],[-0.235,0.15],[-0.215,0.02],[-0.195,0.10],[-0.175,-0.06],[-0.165,0.04],[-0.145,0.10],[-0.125,-0.02],[-0.115,0.06],[-0.105,0.13],[-0.085,-0.01],[-0.075,0.05],[-0.065,0.10],[-0.055,0.01],[-0.045,0.12],[-0.035,-0.02],[-0.025,0.04],[-0.015,0.11],[-0.005,0.00],[-0.005,0.08],[-0.045,0.17],[-0.105,-0.08],[-0.165,0.17],[-0.225,-0.07],[-0.285,0.17],[-0.345,-0.05],[-0.405,0.22],[-0.465,0.01],[-0.525,0.23],[-0.585,0.11],[-0.645,0.28],[-0.705,0.04]];
const euGIR = [[-2.04,0.73],[-1.97,0.24],[-1.93,0.51],[-1.90,0.45],[-1.894,0.32],[-1.847,0.615],[-1.766,0.34],[-1.74,0.58],[-1.70,0.37],[-1.68,0.50],[-1.65,0.81],[-1.62,0.33],[-1.60,0.82],[-1.563,0.06],[-1.528,0.41],[-1.505,0.655],[-1.505,0.76],[-1.486,0.73],[-1.486,0.60],[-1.463,0.47],[-1.405,0.23],[-1.38,0.16],[-1.34,0.005],[-1.327,0.34],[-1.327,0.19],[-1.31,0.09],[-1.29,-0.08],[-1.236,0.005],[-1.233,-0.18],[-1.20,-0.05],[-1.20,0.16],[-1.17,0.37],[-1.143,0.11],[-1.10,0.40],[-1.09,0.08],[-1.06,0.07],[-0.925,-0.10],[-0.91,0.11],[-0.88,-0.23]];
const euUVES = [[-2.15,0.45],[-1.772,0.24],[-1.51,-0.07],[-1.49,-0.08],[-1.164,0.34],[-1.164,0.11],[-1.126,0.07],[-0.995,-0.22]];
const euLitF = [[-2.40,0.40],[-2.10,0.46],[-1.772,0.25],[-1.658,0.63],[-1.56,0.33]];
const euLitO = [[-1.96,0.98],[-2.03,0.03]];
const euErr = [[-0.253,-0.92,0.17,0.30]];

// ---------- BUILD ----------
const panels = [
  {mw: mgMW.concat(mgBand, mgBand2), gir: mgGIR, uves: mgUVES, litF: mgLitF, litO: mgLitO, err: mgErr, notes: mgNotes},
  {mw: yMW.concat(yBand, yBand2), gir: yGIR, uves: yUVES, litF: yLitF, litO: yLitO, err: yErr},
  {mw: baMW.concat(baBand, baBand2), gir: baGIR, uves: baUVES, litF: baLitF, litO: baLitO, err: baErr},
  {mw: laMW.concat(laBand2), gir: laGIR, uves: laUVES, litF: laLitF, litO: laLitO, err: laErr},
  {mw: ndMW.concat(ndBand, ndBand2), gir: ndGIR, uves: ndUVES, litF: ndLitF, litO: ndLitO, err: ndErr},
  {mw: euMW.concat(euBand, euBand2), gir: euGIR, uves: euUVES, litF: euLitF, litO: euLitO, err: euErr}
];
const panelBg = ['#f4f2ee','#f1efeb','#eae8e4','#e7e5e1','#eae8e4','#f2f0ec'];
const TOP0 = 6, PH = 192.4;
const C_GIR = '#0f0ff2', C_UVES = '#1cc4ee', C_LIT = '#ff14ff', C_ERR = '#1a1aff';

const grids = [], xAxes = [], yAxes = [], series = [];
const tickLine = {color:'#000', width:2};
function fmtY(v){ const i = yTicks.findIndex(t => Math.abs(t - v) < 1e-6); return i < 0 ? '' : yTickText[i]; }
function fmtX(v){ const i = xTicks.findIndex(t => Math.abs(t - v) < 1e-6); return i < 0 ? '' : xTickText[i]; }

function errRender(params, api){
  const x = api.value(0), y = api.value(1), dx = api.value(2), dy = api.value(3);
  const c = api.coord([x, y]), l = api.coord([x - dx, y]), r = api.coord([x + dx, y]);
  const t = api.coord([x, y + dy]), b = api.coord([x, y - dy]);
  const st = {stroke: C_ERR, lineWidth: 2};
  const ln = (x1,y1,x2,y2) => ({type:'line', shape:{x1,y1,x2,y2}, style: st});
  return {type:'group', children:[
    ln(l[0], c[1], r[0], c[1]), ln(l[0], c[1]-6.5, l[0], c[1]+6.5), ln(r[0], c[1]-6.5, r[0], c[1]+6.5),
    ln(c[0], t[1], c[0], b[1]), ln(c[0]-7, t[1], c[0]+7, t[1]), ln(c[0]-7, b[1], c[0]+7, b[1])
  ]};
}

panels.forEach((p, i) => {
  grids.push({left:353, width:860, top: TOP0 + i*PH, height: PH, show:true, backgroundColor: panelBg[i], borderWidth:0, containLabel:false});
  const last = i === panels.length - 1;
  const xBase = {gridIndex:i, type:'value', min:-3, max:0, interval:0.5,
    axisLine:{show:true, onZero:false, lineStyle:{color:'#000', width:2.5}},
    axisTick:{show:true, inside:true, length:18, lineStyle:tickLine},
    minorTick:{show:true, splitNumber:5, length:9, lineStyle:tickLine},
    splitLine:{show:false}, minorSplitLine:{show:false}};
  xAxes.push(Object.assign({}, xBase, {position:'bottom',
    axisLabel:{show:last, formatter: fmtX, fontSize:28, color:'#000', margin:14, fontFamily:'Liberation Sans'},
    name: last ? '[Fe/H]' : '', nameLocation:'middle', nameGap:50,
    nameTextStyle:{fontSize:28, color:'#000', fontFamily:'DejaVu Sans'}}));
  xAxes.push(Object.assign({}, xBase, {position:'top', axisLabel:{show:false}}));
  const yBase = {gridIndex:i, type:'value', min:-1.6, max:1.4, splitLine:{show:false}};
  ['left','right'].forEach(pos => {
    yAxes.push(Object.assign({}, yBase, {position:pos, interval:0.2,
      axisLine:{show:true, onZero:false, lineStyle:{color:'#000', width:2.5}},
      axisTick:{show:true, inside:true, length:9, lineStyle:tickLine},
      axisLabel:{show: pos === 'left', formatter: fmtY, fontSize:28, color:'#000', margin:16, fontFamily:'Liberation Sans'},
      name: pos === 'left' ? yTitles[i] : '', nameLocation:'middle', nameGap:72, nameRotate:90,
      nameTextStyle:{fontSize:28, color:'#111', fontFamily:'DejaVu Sans'}}));
    yAxes.push(Object.assign({}, yBase, {position:pos,
      axisLine:{show:false, onZero:false},
      axisTick:{show:true, inside:true, length:19, customValues: yTicks, lineStyle:tickLine},
      axisLabel:{show:false}}));
  });
  const xi = 2*i, yi = 4*i;
  series.push({type:'line', xAxisIndex:xi, yAxisIndex:yi, data: zeroLine, symbol:'none', silent:true, z:1,
    lineStyle:{color:'#6f6f6f', width:2.3, type:[18,13]}});
  series.push({type:'scatter', name:'Milky Way', xAxisIndex:xi, yAxisIndex:yi, data: p.mw, symbol:'rect', symbolSize:7, z:2,
    itemStyle:{color:'#000', opacity:1}, silent:true, large:false});
  series.push({type:'scatter', name:'Scl GIRAFFE', xAxisIndex:xi, yAxisIndex:yi, data: p.gir, symbol:'circle', symbolSize:15.5, z:3,
    itemStyle:{color:C_GIR, borderColor:'#000', borderWidth:1, opacity:1}, silent:true});
  series.push({type:'scatter', name:'Scl UVES', xAxisIndex:xi, yAxisIndex:yi, data: p.uves, symbol:'circle', symbolSize:15.5, z:4,
    itemStyle:{color:C_UVES, borderColor:'#000', borderWidth:1, opacity:1}, silent:true});
  series.push({type:'scatter', name:'Scl lit.', xAxisIndex:xi, yAxisIndex:yi, data: p.litF, symbol:'diamond', symbolSize:14, z:5,
    itemStyle:{color:C_LIT, opacity:1}, silent:true});
  series.push({type:'scatter', name:'Scl lit. open', xAxisIndex:xi, yAxisIndex:yi, data: p.litO, symbol:'diamond', symbolSize:13, z:5,
    itemStyle:{color:'rgba(0,0,0,0)', borderColor:C_LIT, borderWidth:3, opacity:1}, silent:true});
  series.push({type:'custom', xAxisIndex:xi, yAxisIndex:yi, data: p.err, renderItem: errRender, encode:{x:0, y:1}, z:6, silent:true});
  if (p.notes) {
    series.push({type:'scatter', xAxisIndex:xi, yAxisIndex:yi, data: p.notes, symbolSize:0, z:6, silent:true,
      label:{show:true, position:'bottom', distance:19, formatter: d => d.value[2], color:'#666',
        fontFamily:'Liberation Mono', fontSize:13, fontWeight:'bold'}});
  }
});

// left-side process labels and legend (page decoration)
const serif = '"DejaVu Serif"';
const GRAY = '#58585a', DGREEN = '#3f7d3f', LGREEN = '#4fdc4f', PURPLE = '#6c166c';
const sideLabels = [
  {t:'{a|\u03b1}-element', x:15, y:26, c:GRAY},
  {t:'weak-s', x:52, y:222, c:DGREEN},
  {t:'main-s', x:52, y:429, c:LGREEN},
  {t:'(main-r)', x:37, y:471, c:PURPLE},
  {t:'main-s', x:52, y:637, c:LGREEN},
  {t:'main-r', x:52, y:670, c:PURPLE},
  {t:'main-s', x:52, y:848, c:LGREEN},
  {t:'main-r', x:57, y:886, c:PURPLE},
  {t:'main-r', x:57, y:1025, c:PURPLE}
];
const graphic = [
  {type:'line', shape:{x1:0, y1:2, x2:1146, y2:2}, style:{stroke:'#cfcdc8', lineWidth:2}, z:0},
  {type:'rect', shape:{x:1229, y:0, width:7, height:1239}, style:{fill:'#f8f8f6'}, z:0}
];
sideLabels.forEach(s => graphic.push({type:'text', x:s.x, y:s.y, z:10,
  style:{text:s.t, fill:s.c, font:'44px ' + serif, verticalAlign:'middle',
    rich:{a:{fontStyle:'italic', fontSize:44, fontFamily:'DejaVu Serif', fill:s.c}}}}));
const legendFont = '14px "Liberation Mono"';
graphic.push(
  {type:'circle', shape:{cx:1078, cy:124, r:5.5}, style:{fill:C_GIR, stroke:'#000', lineWidth:1}, z:10},
  {type:'text', x:1093, y:124, style:{text:'Scl GIRAFFE', font:legendFont, fill:'#111', verticalAlign:'middle'}, z:10},
  {type:'circle', shape:{cx:1078, cy:140, r:5.5}, style:{fill:C_UVES, stroke:'#000', lineWidth:1}, z:10},
  {type:'text', x:1093, y:140, style:{text:'Scl UVES', font:legendFont, fill:'#111', verticalAlign:'middle'}, z:10},
  {type:'polygon', shape:{points:[[1072,150],[1078,156],[1072,162],[1066,156]]}, style:{fill:C_LIT}, z:10},
  {type:'polygon', shape:{points:[[1084,151.5],[1088.5,156],[1084,160.5],[1079.5,156]]}, style:{fill:'none', stroke:C_LIT, lineWidth:2.5}, z:10},
  {type:'text', x:1093, y:156, style:{text:'Scl lit.', font:legendFont, fill:'#111', verticalAlign:'middle'}, z:10},
  {type:'rect', shape:{x:1075, y:169, width:6, height:6}, style:{fill:'#000'}, z:10},
  {type:'text', x:1093, y:172, style:{text:'Milky Way', font:legendFont, fill:'#111', verticalAlign:'middle'}, z:10}
);

const chart = echarts.init(document.getElementById('c'), null, {renderer:'canvas'});
chart.setOption({
  backgroundColor:'#efede7',
  animation:false,
  grid: grids, xAxis: xAxes, yAxis: yAxes, series: series, graphic: graphic
});
</script>
</body></html>
